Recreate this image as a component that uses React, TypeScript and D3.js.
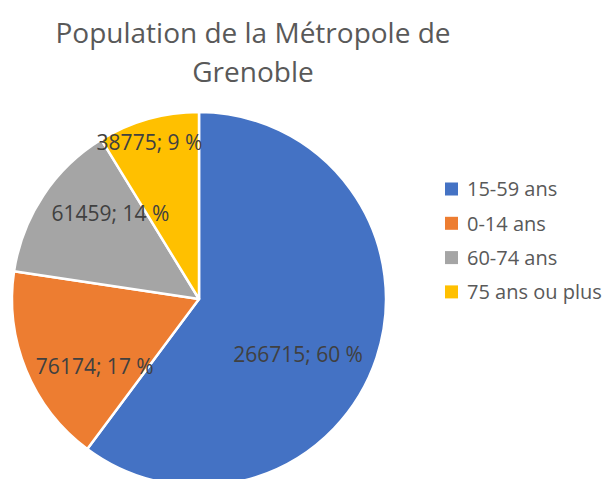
import { useEffect, useRef } from 'react';
import * as d3 from 'd3';

// Données
const categories = ['15-59 ans', '0-14 ans', '60-74 ans', '75 ans ou plus'];
const values = [266715, 76174, 61459, 38775];
const colors = ['#4472C4', '#ED7D31', '#A5A5A5', '#FFC000'];
const titleLines = ['Population de la Métropole de', 'Grenoble'];

// décalage des étiquettes (placement "au mieux" d'Excel)
const labelNudge = [
  [-11, 19],
  [3, 23],
  [8, -22],
  [-18, -45],
];

export default function App() {
  const svgRef = useRef<SVGSVGElement>(null);

  useEffect(() => {
    const width = 606;
    const height = 479;
    const cx = 199;
    const cy = 299;
    const radius = 187;
    const font = "'Open Sans', sans-serif";

    const svg = d3.select(svgRef.current);
    svg.selectAll('*').remove();
    svg.attr('width', width).attr('height', height);

    svg.append('rect').attr('width', width).attr('height', height).attr('fill', '#fff');

    // Titre
    svg.append('g')
      .selectAll('text')
      .data(titleLines)
      .join('text')
      .attr('x', 253)
      .attr('y', (d, i) => 43 + i * 39)
      .attr('text-anchor', 'middle')
      .attr('font-family', font)
      .attr('font-size', 28)
      .attr('fill', '#595959')
      .text(d => d);

    const total = d3.sum(values);
    const data = categories.map((c, i) => ({ name: c, value: values[i], i }));

    const pie = d3.pie<any>().value(d => d.value).sort(null);
    const arcs = pie(data);

    const arc = d3.arc<any>().innerRadius(0).outerRadius(radius);
    const labelArc = d3.arc<any>().innerRadius(radius * 0.62).outerRadius(radius * 0.62);

    const g = svg.append('g').attr('transform', `translate(${cx},${cy})`);

    g.selectAll('path')
      .data(arcs)
      .join('path')
      .attr('d', arc)
      .attr('fill', d => colors[d.data.i])
      .attr('stroke', '#fff')
      .attr('stroke-width', 2.5)
      .attr('stroke-linejoin', 'round');

    g.selectAll('text.lbl')
      .data(arcs)
      .join('text')
      .attr('class', 'lbl')
      .attr('transform', d => {
        const [x, y] = labelArc.centroid(d);
        const [nx, ny] = labelNudge[d.data.i];
        return `translate(${x + nx},${y + ny})`;
      })
      .attr('text-anchor', 'middle')
      .attr('dy', '0.36em')
      .attr('font-family', font)
      .attr('font-size', 21)
      .attr('fill', '#404040')
      .text(d => `${d.data.value}; ${Math.round((d.data.value / total) * 100)} %`);

    // Légende
    const legend = svg.append('g').attr('transform', 'translate(445,189)');
    const rows = legend.selectAll('g')
      .data(data)
      .join('g')
      .attr('transform', (d, i) => `translate(0,${i * 34.3})`);

    rows.append('rect')
      .attr('x', 0)
      .attr('y', -6.5)
      .attr('width', 13)
      .attr('height', 13)
      .attr('fill', d => colors[d.i]);

    rows.append('text')
      .attr('x', 22)
      .attr('dy', '0.36em')
      .attr('font-family', font)
      .attr('font-size', 20)
      .attr('fill', '#595959')
      .text(d => d.name);
  }, []);

  return <svg ref={svgRef} style={{ position: 'absolute', left: 0, top: 0 }}></svg>;
}
